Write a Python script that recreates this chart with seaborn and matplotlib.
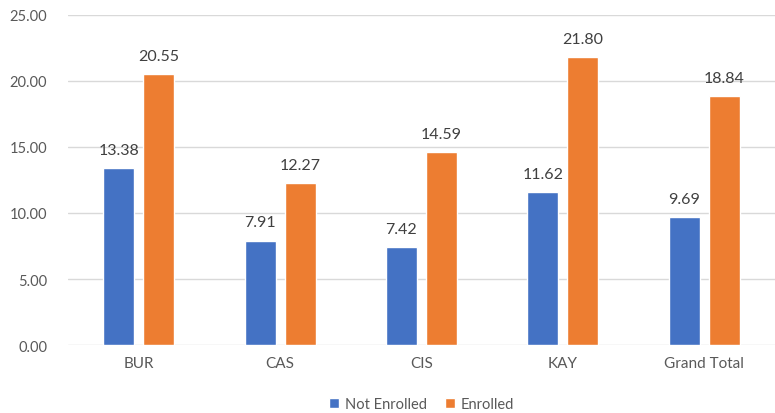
import pandas as pd
import matplotlib
matplotlib.use('Agg')
import matplotlib.pyplot as plt
import seaborn as sns

# hodnoty
categories = ['BUR', 'CAS', 'CIS', 'KAY', 'Grand Total']
not_enrolled = [13.38, 7.91, 7.42, 11.62, 9.69]
enrolled = [20.55, 12.27, 14.59, 21.80, 18.84]
series_names = ['Not Enrolled', 'Enrolled']
colors = ['#4472C4', '#ED7D31']

df = pd.DataFrame({
    'Category': categories * 2,
    'Value': not_enrolled + enrolled,
    'Status': [series_names[0]] * len(categories) + [series_names[1]] * len(categories),
})

sns.set_style('white')
plt.rcParams['font.family'] = ['Lato', 'DejaVu Sans']
text_col = '#595959'

fig = plt.figure(figsize=(7.75, 4.14), dpi=100)
ax = fig.add_axes([68 / 775, 1 - 346 / 414, 1 - 68 / 775, (346 - 16) / 414])

sns.barplot(data=df, x='Category', y='Value', hue='Status', order=categories,
            hue_order=series_names, palette=colors, width=0.567, gap=0.225,
            saturation=1, ax=ax, legend=True)

for c in ax.containers:
    ax.bar_label(c, fmt='%.2f', padding=8, fontsize=11.5, color='#404040')

ax.set_ylim(0, 25)
ax.set_xlim(-0.5, len(categories) - 0.5)
ax.set_yticks([0, 5, 10, 15, 20, 25])
ax.set_yticklabels([f'{v:.2f}' for v in [0, 5, 10, 15, 20, 25]])
ax.yaxis.grid(True, color='#d9d9d9', linewidth=1)
ax.set_axisbelow(True)
for s in ax.spines.values():
    s.set_visible(False)
ax.tick_params(axis='y', length=0, pad=15, labelsize=10.5, labelcolor=text_col)
ax.tick_params(axis='x', length=0, pad=8, labelsize=11, labelcolor=text_col)
ax.set_xlabel('')
ax.set_ylabel('')

ax.legend(loc='center', bbox_to_anchor=(0.5, -0.18), ncol=2, frameon=False,
          fontsize=10.5, labelcolor=text_col, handlelength=0.7, handleheight=0.7,
          handletextpad=0.4, columnspacing=1.2)

plt.savefig('out.png', dpi=100)
